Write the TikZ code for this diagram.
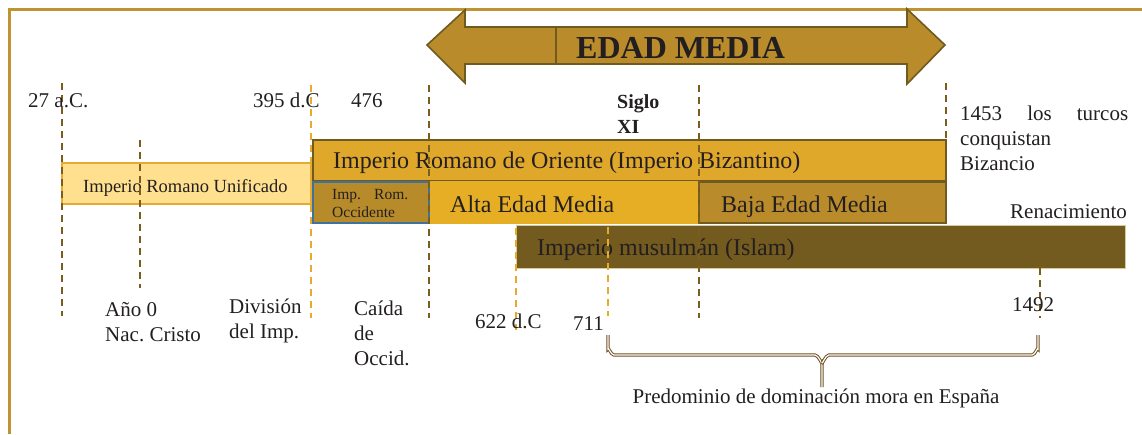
\documentclass[tikz,border=0pt]{standalone}
\usepackage{fontspec}
\setmainfont{Liberation Serif}
\frenchspacing
\definecolor{framec}{HTML}{BF9430}
\definecolor{arrowfill}{HTML}{B98B2B}
\definecolor{arrowline}{HTML}{6F5A20}
\definecolor{oriente}{HTML}{E0A82B}
\definecolor{unifill}{HTML}{FFE08F}
\definecolor{uniline}{HTML}{E6AA2E}
\definecolor{occfill}{HTML}{B78B2A}
\definecolor{occline}{HTML}{3F739B}
\definecolor{altafill}{HTML}{E5AE25}
\definecolor{bajafill}{HTML}{B98B2B}
\definecolor{islamfill}{HTML}{735A1E}
\definecolor{islamline}{HTML}{D8C9A0}
\definecolor{dkline}{HTML}{7B5E1F}
\definecolor{gdline}{HTML}{E6AA2E}
\definecolor{txt}{HTML}{231F20}
\definecolor{bracec}{HTML}{6E5020}
\begin{document}
\begin{tikzpicture}[x=1pt,y=-1pt,
  bar/.style={rectangle, inner sep=0pt, outer sep=0pt, anchor=north west, line width=1.6pt},
  lbl/.style={anchor=base west, inner sep=0pt, text=txt, font=\fontsize{21}{25}\selectfont},
  barlbl/.style={anchor=base west, inner sep=0pt, text=txt, font=\fontsize{24}{28}\selectfont},
  dk/.style={draw=dkline, line width=2pt, dash pattern=on 7pt off 5pt},
  gd/.style={draw=gdline, line width=2pt, dash pattern=on 7pt off 5pt},
  bracestyle/.style={draw=bracec, line width=1pt, double=white, double distance=1.2pt}]
\useasboundingbox (0,0) rectangle (1142,434);
% frame
\draw[framec, line width=3pt] (9,434) -- (9,9) -- (1142,9);
% EDAD MEDIA double arrow
\draw[fill=arrowfill, draw=arrowline, line width=1.6pt, line join=miter]
  (427,45) -- (465,10) -- (465,27) -- (907,27) -- (907,9) -- (945,45)
  -- (907,84) -- (907,64) -- (465,64) -- (465,83) -- cycle;
\coordinate (divtop) at (556,27);
\coordinate (divbot) at (556,64);
\draw[arrowline, line width=1.6pt] (divtop) -- (divbot);
\node[anchor=base west, inner sep=0pt, text=txt, font=\fontsize{32}{36}\selectfont\bfseries] (edad) at (576,58) {EDAD MEDIA};
% bars
\node[bar, fill=unifill, draw=uniline, minimum width=249pt, minimum height=41pt] (unif) at (62,163) {};
\node[bar, fill=oriente, draw=arrowline, minimum width=633pt, minimum height=41pt] (orie) at (313,140) {};
\node[bar, fill=altafill, draw=altafill, minimum width=270pt, minimum height=41pt] (alta) at (429,182) {};
\node[bar, fill=bajafill, draw=arrowline, minimum width=247pt, minimum height=41pt] (baja) at (699,182) {};
\node[bar, fill=occfill, draw=occline, minimum width=116pt, minimum height=41pt] (occi) at (313,182) {};
\node[bar, fill=islamfill, draw=islamline, line width=1pt, minimum width=609pt, minimum height=43pt] (islam) at (516,225) {};
% bar labels
\node[anchor=base west, inner sep=0pt, text=txt, font=\fontsize{18.5}{22}\selectfont] (tunif) at (83,192) {Imperio Romano Unificado};
\node[barlbl] (torie) at (333,168) {Imperio Romano de Oriente (Imperio Bizantino)};
\node[barlbl] (talta) at (450,212) {Alta Edad Media};
\node[barlbl] (tbaja) at (721,212) {Baja Edad Media};
\node[barlbl] (tislam) at (537,255) {Imperio musulmán (Islam)};
\node[anchor=base west, inner sep=0pt, text=txt, font=\fontsize{15.5}{18}\selectfont] (tocc1) at (332,199) {\hbox to 76pt{Imp.\hfil Rom.}};
\node[anchor=base west, inner sep=0pt, text=txt, font=\fontsize{15.5}{18}\selectfont] (tocc2) at (332,217) {Occidente};
% dashed markers
\draw[dk] (62,83) -- (62,316);
\draw[dk] (140,140) -- (140,288);
\draw[gd] (311,85) -- (311,318);
\draw[dk] (429,85) -- (429,318);
\draw[gd] (516,228) -- (516,330);
\draw[gd] (608,215) -- (608,316);
\draw[dk] (699,85) -- (699,318);
\draw[dk] (946,83) -- (946,140);
\draw[dk] (1040,268) -- (1040,318);
% date labels (base anchor = last line of multi-line nodes)
\node[lbl] (l27) at (28,107) {27 a.C.};
\node[lbl] (l395) at (253,107) {395 d.C};
\node[lbl] (l476) at (351,107) {476};
\node[anchor=base west, inner sep=0pt, text=txt, font=\fontsize{20}{25}\selectfont\bfseries, align=left] (siglo) at (617,133) {Siglo\\XI};
\node[lbl, align=left, text width=168pt] (l1453) at (960,120) {1453\hfill los\hfill turcos\\conquistan\\Bizancio};
\node[lbl] (renac) at (1010,218) {Renacimiento};
\node[lbl, align=left] (ano) at (105,341) {Año 0\\Nac. Cristo};
\node[lbl, align=left] (divi) at (229,338) {División\\del Imp.};
\node[lbl, align=left] (caida) at (354,365) {Caída\\de\\Occid.};
\node[lbl] (l622) at (475,328) {622 d.C};
\node[lbl] (l711) at (573,330) {711};
\node[lbl] (l1492) at (1012,311) {1492};
% brace
\coordinate (bl) at (608,335);
\coordinate (br) at (1038,335);
\coordinate (btip) at (822,387);
\draw[bracestyle] (bl) -- (608,349) to[out=90,in=180] (614,355) -- (815,355) to[out=0,in=-90] (822,362) -- (btip);
\draw[bracestyle] (br) -- (1038,349) to[out=90,in=0] (1032,355) -- (829,355) to[out=180,in=-90] (822,362);
\node[anchor=base, inner sep=0pt, text=txt, font=\fontsize{21}{25}\selectfont] (pred) at (816,403) {Predominio de dominación mora en España};
\end{tikzpicture}
\end{document}
